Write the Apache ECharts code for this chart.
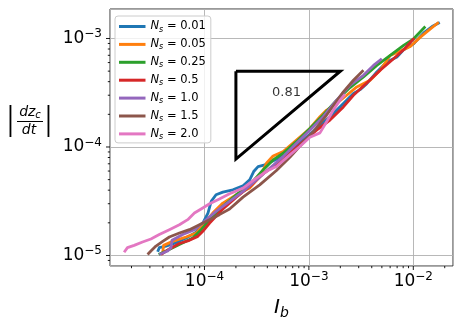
<!DOCTYPE html>
<html><head><meta charset="utf-8">
<script src="https://cdn.jsdelivr.net/npm/echarts@6/dist/echarts.min.js"></script>
<style>html,body{margin:0;padding:0;background:#fff}#c{width:464px;height:327px}</style>
</head><body><div id="c"></div>
<script>
const seriesNames = ['0.01', '0.05', '0.25', '0.5', '1.0', '1.5', '2.0'];
const colors = ['#1f77b4', '#ff7f0e', '#2ca02c', '#d62728', '#9467bd', '#8c564b', '#e377c2'];

const xN001 = [3.56e-5,3.69e-5,4.28e-5,5.34e-5,6.66e-5,8.32e-5,9.64e-5,1.08e-4,1.16e-4,1.29e-4,1.50e-4,1.87e-4,2.34e-4,2.71e-4,2.96e-4,3.26e-4,3.78e-4,4.89e-4,6.57e-4,8.82e-4,1.185e-3,1.592e-3,2.139e-3,2.669e-3,3.094e-3,3.585e-3,4.474e-3,5.583e-3,6.965e-3,8.074e-3,1.007e-2,1.257e-2,1.512e-2,1.791e-2];
const yN001 = [1.08e-5,1.18e-5,1.22e-5,1.31e-5,1.45e-5,1.64e-5,1.99e-5,2.46e-5,3.15e-5,3.63e-5,3.84e-5,4.03e-5,4.39e-5,4.98e-5,5.94e-5,6.60e-5,6.84e-5,7.71e-5,8.87e-5,1.16e-4,1.48e-4,1.90e-4,2.52e-4,3.11e-4,3.38e-4,3.84e-4,4.91e-4,6.07e-4,6.74e-4,7.87e-4,8.94e-4,1.127e-3,1.289e-3,1.402e-3];

const xN005 = [3.98e-5,4.06e-5,4.96e-5,6.66e-5,8.32e-5,1.00e-4,1.20e-4,1.50e-4,2.02e-4,2.71e-4,3.38e-4,3.92e-4,4.54e-4,5.67e-4,7.61e-4,1.022e-3,1.276e-3,1.479e-3,1.845e-3,2.302e-3,2.873e-3,3.860e-3,4.817e-3,6.008e-3,7.499e-3,9.358e-3,1.168e-2,1.457e-2,1.752e-2];
const yN005 = [1.06e-5,1.24e-5,1.35e-5,1.48e-5,1.61e-5,1.99e-5,2.46e-5,3.04e-5,3.63e-5,4.18e-5,5.34e-5,7.08e-5,8.27e-5,9.06e-5,1.16e-4,1.48e-4,1.90e-4,2.19e-4,2.52e-4,3.00e-4,3.58e-4,4.12e-4,5.09e-4,6.98e-4,7.65e-4,8.45e-4,1.029e-3,1.227e-3,1.412e-3];

const xN025 = [3.64e-5,4.44e-5,5.75e-5,7.72e-5,9.29e-5,1.12e-4,1.50e-4,2.02e-4,2.71e-4,3.64e-4,4.54e-4,5.67e-4,7.61e-4,1.022e-3,1.373e-3,1.845e-3,2.479e-3,3.331e-3,4.474e-3,6.008e-3,8.074e-3,1.007e-2,1.304e-2];
const yN025 = [1.02e-5,1.12e-5,1.26e-5,1.45e-5,1.73e-5,2.11e-5,2.84e-5,3.63e-5,4.48e-5,6.15e-5,7.60e-5,8.75e-5,1.12e-4,1.48e-4,1.97e-4,2.70e-4,3.53e-4,4.42e-4,5.65e-4,6.98e-4,8.63e-4,9.93e-4,1.289e-3];

const xN05 = [3.83e-5,4.61e-5,5.75e-5,7.17e-5,8.63e-5,9.64e-5,1.12e-4,1.50e-4,2.02e-4,2.71e-4,3.64e-4,4.89e-4,6.57e-4,8.82e-4,1.185e-3,1.592e-3,2.139e-3,2.669e-3,3.585e-3,4.817e-3,6.470e-3,8.074e-3,1.022e-2];
const yN05 = [1.02e-5,1.15e-5,1.29e-5,1.38e-5,1.50e-5,1.67e-5,1.99e-5,2.68e-5,3.45e-5,4.33e-5,5.65e-5,6.98e-5,8.75e-5,1.12e-4,1.43e-4,1.77e-4,2.34e-4,3.00e-4,3.89e-4,5.09e-4,6.51e-4,7.87e-4,1.007e-3];

const xN10 = [3.69e-5,4.44e-5,4.78e-5,4.89e-5,6.19e-5,8.01e-5,1.00e-4,1.29e-4,1.74e-4,2.34e-4,3.14e-4,4.22e-4,5.67e-4,7.61e-4,1.022e-3,1.373e-3,1.845e-3,2.479e-3,3.331e-3,4.156e-3,4.994e-3];
const yN10 = [1.02e-5,1.10e-5,1.18e-5,1.38e-5,1.56e-5,1.73e-5,2.07e-5,2.55e-5,3.15e-5,3.89e-5,4.98e-5,6.37e-5,8.15e-5,1.08e-4,1.43e-4,1.90e-4,2.70e-4,3.71e-4,4.58e-4,5.65e-4,6.51e-4];

const xN15 = [2.85e-5,3.07e-5,3.43e-5,3.98e-5,4.61e-5,5.75e-5,7.17e-5,8.95e-5,1.12e-4,1.39e-4,1.74e-4,2.34e-4,3.38e-4,4.89e-4,6.57e-4,8.82e-4,1.101e-3,1.479e-3,2.139e-3,2.669e-3,3.331e-3];
const yN15 = [1.02e-5,1.10e-5,1.22e-5,1.35e-5,1.48e-5,1.61e-5,1.73e-5,1.92e-5,2.14e-5,2.38e-5,2.68e-5,3.45e-5,4.48e-5,6.07e-5,8.04e-5,1.10e-4,1.38e-4,1.97e-4,3.22e-4,4.12e-4,5.09e-4];

const xN20 = [1.70e-5,1.83e-5,2.12e-5,2.55e-5,3.07e-5,3.69e-5,4.61e-5,5.75e-5,6.91e-5,8.01e-5,9.29e-5,1.12e-4,1.39e-4,1.74e-4,2.34e-4,3.14e-4,4.06e-4,4.89e-4,6.57e-4,8.20e-4,1.022e-3,1.276e-3,1.479e-3,1.714e-3,1.987e-3,2.219e-3];
const yN20 = [1.07e-5,1.18e-5,1.24e-5,1.33e-5,1.42e-5,1.56e-5,1.73e-5,1.92e-5,2.14e-5,2.46e-5,2.68e-5,3.00e-5,3.31e-5,3.71e-5,4.18e-5,5.16e-5,6.07e-5,6.60e-5,8.45e-5,1.01e-4,1.23e-4,1.35e-4,1.71e-4,2.19e-4,2.70e-4,3.06e-4];

const xSeries = [xN001, xN005, xN025, xN05, xN10, xN15, xN20];
const ySeries = [yN001, yN005, yN025, yN05, yN10, yN15, yN20];

// slope triangle
const triX = [2e-4, 2e-3, 2e-4, 2e-4];
const triY = [5e-4, 5e-4, 7.74e-5, 5e-4];
const slopeLabel = '0.81';
const slopeLabelPos = [6.1e-4, 3.2e-4];

// axes
const X_MIN = 1.245e-5, X_MAX = 0.024;
const Y_MIN = 8.0e-6, Y_MAX = 1.87e-3;
const xMajor = [1e-4, 1e-3, 1e-2];
const yMajor = [1e-5, 1e-4, 1e-3];
const xMinor = [2e-5,3e-5,4e-5,5e-5,6e-5,7e-5,8e-5,9e-5,2e-4,3e-4,4e-4,5e-4,6e-4,7e-4,8e-4,9e-4,2e-3,3e-3,4e-3,5e-3,6e-3,7e-3,8e-3,9e-3,2e-2];
const yMinor = [9e-6,2e-5,3e-5,4e-5,5e-5,6e-5,7e-5,8e-5,9e-5,2e-4,3e-4,4e-4,5e-4,6e-4,7e-4,8e-4,9e-4];

const FONT = 'DejaVu Sans';

function powLabel(v) {
  const e = Math.log10(v);
  const r = Math.round(e);
  if (Math.abs(e - r) > 1e-6) return '';
  return '{b|10}{s|' + (r < 0 ? '\u2212' : '') + Math.abs(r) + '}';
}
const tickRich = {
  b: { fontSize: 17, fontFamily: FONT, color: '#000', lineHeight: 21 },
  s: { fontSize: 12, fontFamily: FONT, color: '#000', lineHeight: 12, verticalAlign: 'top' }
};

const lineSeries = seriesNames.map((n, i) => ({
  name: n, type: 'line', symbol: 'none', showSymbol: false,
  data: xSeries[i].map((x, j) => [x, ySeries[i][j]]),
  lineStyle: { color: colors[i], width: 2.8, join: 'round' },
  itemStyle: { color: colors[i] },
  emphasis: { disabled: true }, z: 3
}));

const tickLine = (axis) => (params, api) => {
  const p = api.coord([api.value(0), api.value(1)]);
  const len = api.value(2);
  const shape = axis === 'x'
    ? { x1: p[0], y1: p[1], x2: p[0], y2: p[1] + len }
    : { x1: p[0] - len, y1: p[1], x2: p[0], y2: p[1] };
  return { type: 'line', shape, style: { stroke: '#000', lineWidth: 0.9 } };
};

const option = {
  animation: false,
  backgroundColor: '#fff',
  grid: { left: 110, right: 11, top: 9, bottom: 61, show: true, borderColor: '#333', borderWidth: 1, backgroundColor: 'transparent' },
  xAxis: {
    type: 'log', logBase: 10, min: X_MIN, max: X_MAX,
    axisLine: { show: false }, axisTick: { show: false },
    splitLine: { show: true, lineStyle: { color: '#b0b0b0', width: 0.9 } },
    axisLabel: { formatter: powLabel, margin: 5, rich: tickRich, showMinLabel: false, showMaxLabel: false },
    name: '{i|I}{sub|b}', nameLocation: 'middle', nameGap: 30,
    nameTextStyle: { rich: {
      i: { fontSize: 20, fontStyle: 'italic', fontFamily: FONT, color: '#000', lineHeight: 24 },
      sub: { fontSize: 14, fontStyle: 'italic', fontFamily: FONT, color: '#000', lineHeight: 14, verticalAlign: 'bottom' }
    } }
  },
  yAxis: {
    type: 'log', logBase: 10, min: Y_MIN, max: Y_MAX,
    axisLine: { show: false }, axisTick: { show: false },
    splitLine: { show: true, lineStyle: { color: '#b0b0b0', width: 0.9 } },
    axisLabel: { formatter: powLabel, margin: 8, rich: tickRich, showMinLabel: false, showMaxLabel: false }
  },
  legend: {
    data: seriesNames, orient: 'vertical', left: 115, top: 16,
    icon: 'rect', itemWidth: 26.5, itemHeight: 3, itemGap: 3.9,
    padding: [3.5, 5, 2, 4],
    backgroundColor: 'rgba(255,255,255,0.8)', borderColor: '#cccccc', borderWidth: 1, borderRadius: 3,
    selectedMode: false,
    formatter: (name) => '{i|N}{sub|s}{r| = ' + name + '}',
    textStyle: {
      fontFamily: FONT, fontSize: 11.5, color: '#000', lineHeight: 14,
      rich: {
        i: { fontFamily: FONT, fontSize: 11.5, fontStyle: 'italic', color: '#000', lineHeight: 14 },
        sub: { fontFamily: FONT, fontSize: 8, fontStyle: 'italic', color: '#000', lineHeight: 8, verticalAlign: 'bottom' },
        r: { fontFamily: FONT, fontSize: 11.5, color: '#000', lineHeight: 14 }
      }
    }
  },
  graphic: [
    { type: 'text', x: 10.5, y: 121, scaleY: 1.45, style: { text: '|', fontSize: 22, fontFamily: FONT, fill: '#000', align: 'center', verticalAlign: 'middle' } },
    { type: 'text', x: 48.5, y: 121, scaleY: 1.45, style: { text: '|', fontSize: 22, fontFamily: FONT, fill: '#000', align: 'center', verticalAlign: 'middle' } },
    { type: 'text', x: 30, y: 112, style: { text: '{n|dz}{c|c}', align: 'center', verticalAlign: 'middle',
        rich: { n: { fontSize: 14, fontStyle: 'italic', fontFamily: FONT, fill: '#000', lineHeight: 16 },
                c: { fontSize: 10, fontStyle: 'italic', fontFamily: FONT, fill: '#000', lineHeight: 10, verticalAlign: 'bottom' } } } },
    { type: 'line', shape: { x1: 17, y1: 121.5, x2: 43, y2: 121.5 }, style: { stroke: '#000', lineWidth: 1 } },
    { type: 'text', x: 29, y: 130, style: { text: 'dt', fontSize: 14, fontStyle: 'italic', fontFamily: FONT, fill: '#000', align: 'center', verticalAlign: 'middle' } }
  ],
  series: [
    ...lineSeries,
    { type: 'line', symbol: 'none', data: triX.map((x, i) => [x, triY[i]]),
      lineStyle: { color: '#000', width: 3, join: 'miter' }, z: 4, emphasis: { disabled: true } },
    { type: 'scatter', symbolSize: 0, data: [slopeLabelPos],
      label: { show: true, position: 'inside', formatter: slopeLabel, fontSize: 13, fontFamily: FONT, color: '#000' }, z: 4 },
    { type: 'custom', coordinateSystem: 'cartesian2d', clip: false, silent: true, z: 6,
      encode: { x: 0, y: 1 },
      data: xMajor.map(v => [v, Y_MIN, 4]).concat(xMinor.map(v => [v, Y_MIN, 2.2])),
      renderItem: tickLine('x') },
    { type: 'custom', coordinateSystem: 'cartesian2d', clip: false, silent: true, z: 6,
      encode: { x: 0, y: 1 },
      data: yMajor.map(v => [X_MIN, v, 4]).concat(yMinor.map(v => [X_MIN, v, 2.2])),
      renderItem: tickLine('y') }
  ]
};

const chart = echarts.init(document.getElementById('c'), null, { renderer: 'canvas' });
chart.setOption(option);
</script>
</body></html>
